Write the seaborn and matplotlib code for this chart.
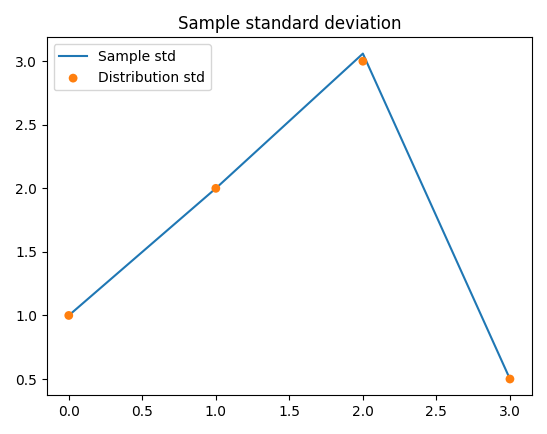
import matplotlib
matplotlib.use("Agg")
import matplotlib.pyplot as plt
import seaborn as sns

x = [0, 1, 2, 3]
sample_std = [1.0, 2.0, 3.06, 0.5]
dist_std = [1.0, 2.0, 3.0, 0.5]

fig, ax = plt.subplots(figsize=(5.47, 4.34), dpi=100)
sns.lineplot(x=x, y=sample_std, ax=ax, color="#1f77b4", label="Sample std")
sns.scatterplot(x=x, y=dist_std, ax=ax, color="#ff7f0e", s=40, edgecolor="none", label="Distribution std", zorder=3)
ax.set_title("Sample standard deviation")
ax.legend(loc="upper left")
fig.tight_layout()
fig.savefig("out.png", dpi=100)
